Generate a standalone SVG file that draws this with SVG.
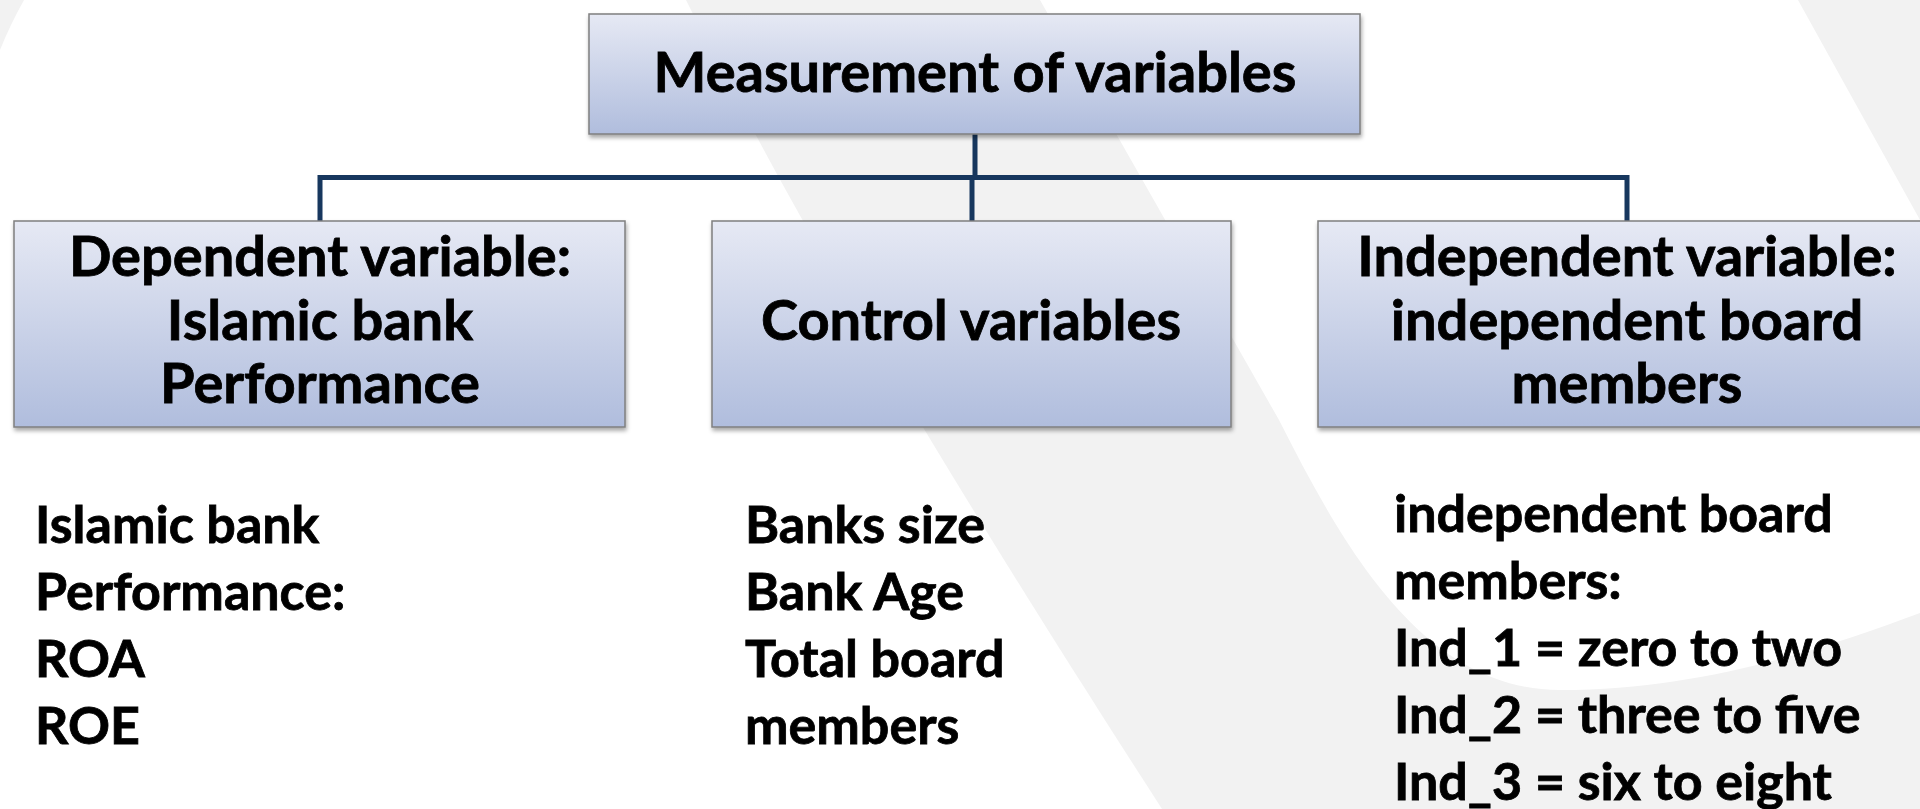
<svg xmlns="http://www.w3.org/2000/svg" width="1920" height="809" viewBox="0 0 1920 809">
<style>
.t{font-family:Lato,"Liberation Sans",sans-serif;font-weight:bold;font-size:52px;fill:#000;stroke:#000;stroke-width:0.8}
.b{font-size:56px}
.c{text-anchor:middle}
.box{fill:url(#g);stroke:#7f7f7f;stroke-width:1.5;filter:url(#sh)}
.conn{stroke:#17375e;stroke-width:5;fill:none}
</style>
<defs>
<linearGradient id="g" x1="0" y1="0" x2="0" y2="1">
<stop offset="0" stop-color="#e6e9f4"/>
<stop offset="1" stop-color="#b0bddd"/>
</linearGradient>
<filter id="sh" x="-5%" y="-10%" width="110%" height="125%">
<feDropShadow dx="1" dy="3" stdDeviation="2" flood-color="#000" flood-opacity="0.35"/>
</filter>
</defs>
<rect width="1920" height="809" fill="#ffffff"/>
<g id="background">
<path d="M686,0 L1920,0 L1920,809 L1162,809 C950,480 800,230 686,0 Z" fill="#f2f2f2"/>
<path d="M1040,0 L1279,420 C1340,540 1420,690 1560,690 C1700,690 1820,650 1920,613 L1920,220 L1798,0 Z" fill="#ffffff"/>
<path d="M0,0 L24,0 Q10,25 0,50 Z" fill="#f2f2f2"/>
</g>
<g id="connectors">
<path class="conn" d="M975,134 V178"/>
<path class="conn" d="M320,221 V177.5 H1627 V221"/>
<path class="conn" d="M972,178 V221"/>
</g>
<g id="node-top">
<rect class="box" x="589" y="14" width="771" height="120"/>
<text class="t b c" x="975" y="92">Measurement of variables</text>
</g>
<g id="node-dependent">
<rect class="box" x="14" y="221" width="611" height="206"/>
<text class="t b c" x="320" y="276">Dependent variable:</text>
<text class="t b c" x="320" y="340">Islamic bank</text>
<text class="t b c" x="320" y="403">Performance</text>
</g>
<g id="node-control">
<rect class="box" x="712" y="221" width="519" height="206"/>
<text class="t b c" x="971" y="340">Control variables</text>
</g>
<g id="node-independent">
<rect class="box" x="1318" y="221" width="618" height="206"/>
<text class="t b c" x="1627" y="276">Independent variable:</text>
<text class="t b c" x="1627" y="340">independent board</text>
<text class="t b c" x="1627" y="403">members</text>
</g>
<g id="text-dependent">
<text class="t" x="35" y="543">Islamic bank</text>
<text class="t" x="35" y="610">Performance:</text>
<text class="t" x="35" y="677">ROA</text>
<text class="t" x="35" y="744">ROE</text>
</g>
<g id="text-control">
<text class="t" x="745" y="543">Banks size</text>
<text class="t" x="745" y="610">Bank Age</text>
<text class="t" x="745" y="677">Total board</text>
<text class="t" x="745" y="744">members</text>
</g>
<g id="text-independent">
<text class="t" x="1394" y="532">independent board</text>
<text class="t" x="1394" y="599">members:</text>
<text class="t" x="1394" y="666">Ind_1 = zero to two</text>
<text class="t" x="1394" y="733">Ind_2 = three to five</text>
<text class="t" x="1394" y="800">Ind_3 = six to eight</text>
</g>
</svg>
